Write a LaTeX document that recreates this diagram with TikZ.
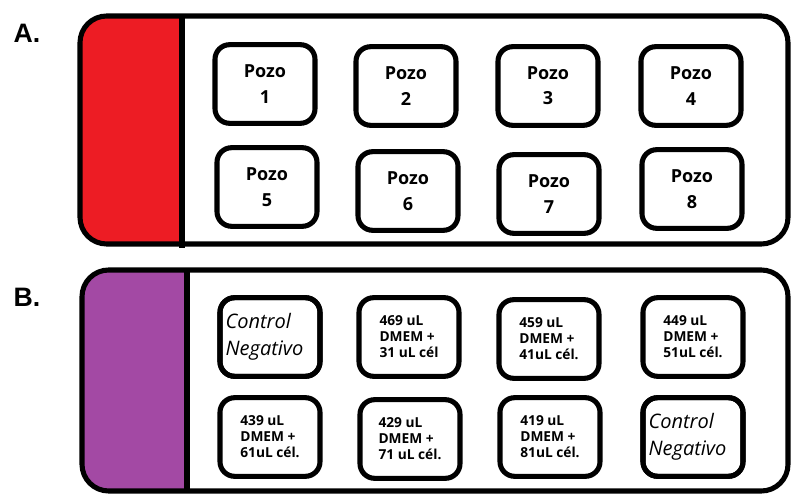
\documentclass[tikz,border=0pt]{standalone}
\usepackage{fontspec}
\setmainfont{Open Sans}
\newfontfamily\tagfont{Liberation Sans}
\usetikzlibrary{positioning}

\definecolor{paintred}{HTML}{ED1C24}
\definecolor{paintpurple}{HTML}{A349A4}

\tikzset{
  panel/.style={line width=3.8pt, rounded corners=20pt},
  well/.style={draw, line width=3.8pt, rounded corners=11pt, fill=white,
    minimum width=75pt, minimum height=59pt, inner sep=2pt, outer sep=0pt},
  rim/.style={line width=3.8pt, rounded corners=11pt},
  pozo/.style={well, align=center, font=\bfseries\fontsize{13.5}{19}\selectfont},
  dose/.style={well, align=left, font=\bfseries\fontsize{10.3}{12}\selectfont},
  ctrltext/.style={anchor=west, align=left, inner sep=0pt,
    font=\itshape\fontsize{15}{20}\selectfont},
  tag/.style={font=\tagfont\bfseries\fontsize{20}{24}\selectfont}
}

\begin{document}
\begin{tikzpicture}[x=0.75pt, y=-0.75pt]
  \useasboundingbox (0,0) rectangle (797,495);

  % panel A
  \begin{scope}
    \clip[rounded corners=20pt] (80,16) rectangle (788,244);
    \fill[white] (80,16) rectangle (788,244);
    \fill[paintred] (80,16) rectangle (182,244);
  \end{scope}
  \draw[panel] (80,16) rectangle (788,244);
  \draw[line width=3.8pt] (182,16) -- (182,248);
  \node[tag] (tagA) at (27,33) {A.};

  \node[pozo] (p1) at (265,84) {Pozo\\1};
  \node[pozo] (p2) at (406,86) {Pozo\\2};
  \node[pozo] (p3) at (548,86) {Pozo\\3};
  \node[pozo] (p4) at (691,86) {Pozo\\4};
  \node[pozo] (p5) at (267,187) {Pozo\\5};
  \node[pozo] (p6) at (408,191) {Pozo\\6};
  \node[pozo] (p7) at (549,194) {Pozo\\7};
  \node[pozo] (p8) at (692,189) {Pozo\\8};

  % panel B
  \begin{scope}
    \clip[rounded corners=20pt] (82,270) rectangle (788,491);
    \fill[white] (82,270) rectangle (788,491);
    \fill[paintpurple] (82,270) rectangle (187,491);
  \end{scope}
  \draw[panel] (82,270) rectangle (788,491);
  \draw[line width=3.8pt] (187,270) -- (187,491);
  \node[tag] (tagB) at (27,297) {B.};

  \node[well] (b1) at (270,337) {};
  \node[dose] (b2) at (409,337) {469 uL\\DMEM +\\31 uL cél};
  \node[dose] (b3) at (549,339) {459 uL\\DMEM +\\41uL cél.};
  \node[dose] (b4) at (693,337) {449 uL\\DMEM +\\51uL cél.};
  \node[dose] (b5) at (270,437) {439 uL\\DMEM +\\61uL cél.};
  \node[dose] (b6) at (410,439) {429 uL\\DMEM +\\71 uL cél.};
  \node[dose] (b7) at (550,437) {419 uL\\DMEM +\\81uL cél.};
  \node[well] (b8) at (693,437) {};

  % control text runs under the rim
  \node[ctrltext] (c1) at ([xshift=4pt]b1.west) {Control\\Negativo};
  \node[ctrltext] (c8) at ([xshift=4pt]b8.west) {Control\\Negativo};
  \draw[rim] (b1.south west) rectangle (b1.north east);
  \draw[rim] (b8.south west) rectangle (b8.north east);
\end{tikzpicture}
\end{document}
